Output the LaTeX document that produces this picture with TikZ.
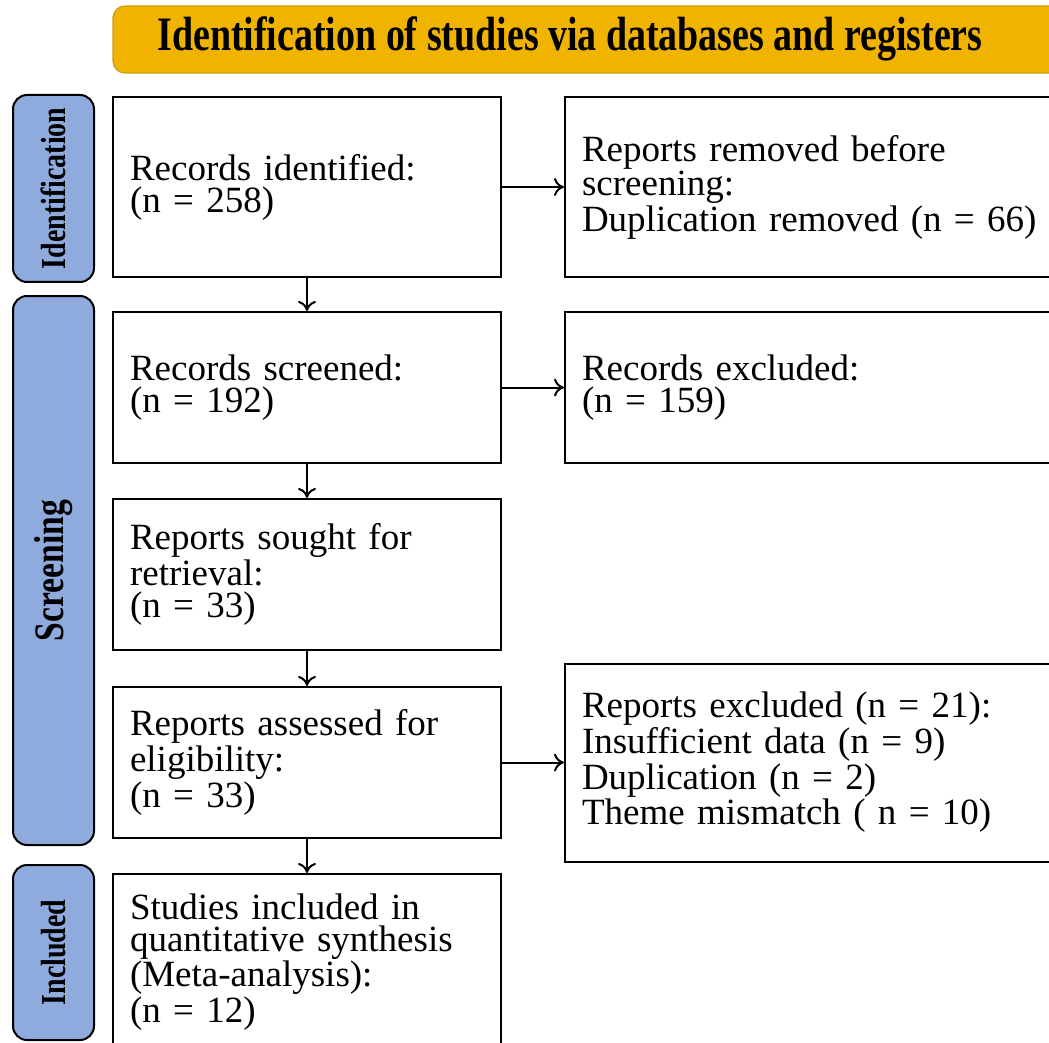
\documentclass[tikz,border=0pt]{standalone}
\usepackage{fontspec}
\setmainfont{Liberation Serif}
\usetikzlibrary{positioning, arrows.meta}

\definecolor{bannergold}{RGB}{240,180,0}
\definecolor{bannerline}{RGB}{205,155,20}
\definecolor{phaseblue}{RGB}{143,170,220}

\newcommand{\phasetext}[3]{\fontsize{#1}{#1}\selectfont\bfseries\scalebox{#2}[1]{#3}}

\tikzset{
  flowbox/.style={draw, line width=1pt, align=left, text width=177pt, inner sep=8.5pt,
    font=\fontsize{18.5}{16}\selectfont},
  sidebox/.style={flowbox, text width=236.5pt},
  phaselabel/.style={draw, line width=1pt, fill=phaseblue, rounded corners=7pt, rotate=90,
    minimum height=40.5pt, inner sep=0pt},
  banner/.style={draw=bannerline, line width=0.6pt, fill=bannergold, rounded corners=6pt,
    minimum width=478.5pt, minimum height=33.5pt},
  flowarrow/.style={-{To[length=5pt,width=9pt]}, line width=1pt},
}

\begin{document}
\begin{tikzpicture}[x=0.5pt, y=-0.5pt]
\useasboundingbox (0,0) rectangle (1049,1043);
\clip (0,0) rectangle (1049,1043);

% header
\node[banner] (bannerbox) at (591.5,39.5) {};
\node[font=\fontsize{24}{24}\selectfont\bfseries] (title) at (570,39)
  {\scalebox{0.79}[1]{Identification of studies via databases and registers}};

% phases
\node[phaselabel, minimum width=93.5pt] (idphase) at (53.5,188.5) {\phasetext{17.5}{0.8}{Identification}};
\node[phaselabel, minimum width=274.5pt] (scphase) at (53.5,570.5) {\phasetext{21}{0.8}{Screening}};
\node[phaselabel, minimum width=87.5pt] (inphase) at (53.5,952.5) {\phasetext{17.5}{0.8}{Included}};

% main column
\node[flowbox, minimum height=90pt] (ident) at (307,187) {Records identified:\\(n = 258)};
\node[flowbox, minimum height=75.5pt, below=16.5pt of ident] (screen) {Records screened:\\(n = 192)};
\node[flowbox, minimum height=75.5pt, below=17pt of screen] (sought) {Reports sought for\\retrieval:\\(n = 33)};
\node[flowbox, minimum height=75.5pt, below=17.5pt of sought] (assess) {Reports assessed for\\eligibility:\\(n = 33)};
\node[flowbox, minimum height=88pt, below=17pt of assess] (incl) {Studies included in\\quantitative synthesis\\(Meta-analysis):\\(n = 12)};

% exclusions
\node[sidebox, minimum height=90pt, right=31pt of ident] (removed) {Reports removed before\\screening:\\Duplication removed (n = 66)};
\node[sidebox, minimum height=75.5pt, right=31pt of screen] (excl) {Records excluded:\\(n = 159)};
\node[sidebox, minimum height=99pt, right=31pt of assess] (exclrep) {Reports excluded (n = 21):\\Insufficient data (n = 9)\\Duplication (n = 2)\\Theme mismatch ( n = 10)};

% arrows
\draw[flowarrow] (ident) -- (removed);
\draw[flowarrow] (screen) -- (excl);
\draw[flowarrow] (assess) -- (exclrep);
\draw[flowarrow] (ident) -- (screen);
\draw[flowarrow] (screen) -- (sought);
\draw[flowarrow] (sought) -- (assess);
\draw[flowarrow] (assess) -- (incl);
\end{tikzpicture}
\end{document}
